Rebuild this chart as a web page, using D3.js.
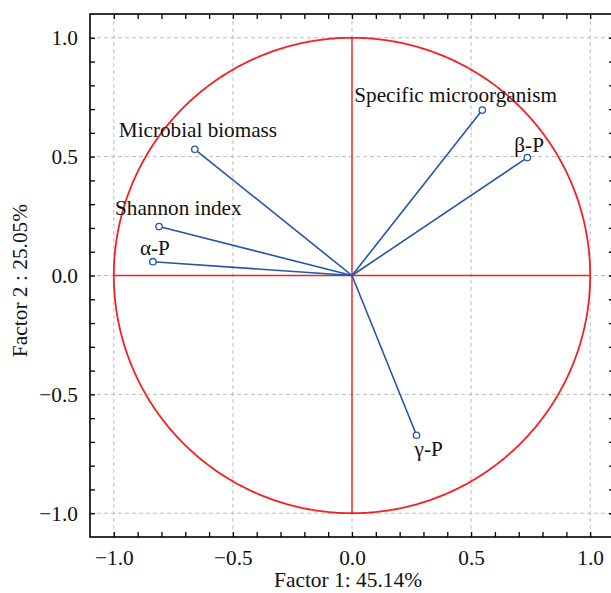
<!DOCTYPE html>
<html>
<head>
<meta charset="utf-8">
<script src="https://cdn.jsdelivr.net/npm/d3@7"></script>
<style>
  html, body { margin: 0; padding: 0; background: #fff; }
  svg { display: block; }
  text { font-family: "Liberation Serif", "Times New Roman", serif; fill: #111; }
</style>
</head>
<body>
<svg id="chart" width="611" height="593"></svg>
<script>
// ---- data ----
const variables = ["Specific microorganism", "β-P", "Microbial biomass", "Shannon index", "α-P", "γ-P"];
const factor1 = [0.547, 0.736, -0.660, -0.810, -0.836, 0.271];
const factor2 = [0.696, 0.496, 0.531, 0.206, 0.058, -0.672];
// label offsets (px) relative to vector tip
const labelDx = [-128, -13, -76, -44, -13, -2];
const labelDy = [-8, -6, -12, -12, -7, 21];

const majorTicks = [-1.0, -0.5, 0.0, 0.5, 1.0];
const tickLabels = ["\u22121.0", "\u22120.5", "0.0", "0.5", "1.0"];
const minorTicks = d3.range(-10, 11).map(d => d / 10);
const xTitle = "Factor 1: 45.14%";
const yTitle = "Factor 2 : 25.05%";

// ---- layout ----
(function () {
const svg = d3.select("#chart");
const pl = 90, pr = 614, pt = 14, pb = 537;
const x = d3.scaleLinear().domain([-1.1, 1.1]).range([pl, pr]);
const y = d3.scaleLinear().domain([-1.1, 1.1]).range([pb, pt]);

const red = "#f52020";
const blue = "#2456a8";

// grid
const grid = svg.append("g");
grid.append("g").selectAll("line").data(majorTicks).join("line")
  .attr("x1", d => x(d)).attr("x2", d => x(d))
  .attr("y1", pt).attr("y2", pb)
  .attr("stroke", "#bdbdbd").attr("stroke-width", 1).attr("stroke-dasharray", "4,3");
grid.append("g").selectAll("line").data(majorTicks).join("line")
  .attr("y1", d => y(d)).attr("y2", d => y(d))
  .attr("x1", pl).attr("x2", pr)
  .attr("stroke", "#bdbdbd").attr("stroke-width", 1).attr("stroke-dasharray", "4,3");

// unit circle
const circ = d3.range(0, 721).map(i => {
  const a = i / 720 * 2 * Math.PI;
  return [Math.cos(a), Math.sin(a)];
});
svg.append("path")
  .attr("d", d3.line().x(d => x(d[0])).y(d => y(d[1]))(circ))
  .attr("fill", "none").attr("stroke", red).attr("stroke-width", 1.8);

// cross lines
svg.append("line").attr("x1", x(-1)).attr("x2", x(1)).attr("y1", y(0)).attr("y2", y(0))
  .attr("stroke", red).attr("stroke-width", 1.4);
svg.append("line").attr("x1", x(0)).attr("x2", x(0)).attr("y1", y(1)).attr("y2", y(-1))
  .attr("stroke", red).attr("stroke-width", 1.4);

// vectors
const idx = d3.range(variables.length);
svg.append("g").selectAll("line").data(idx).join("line")
  .attr("x1", x(0)).attr("y1", y(0))
  .attr("x2", i => x(factor1[i])).attr("y2", i => y(factor2[i]))
  .attr("stroke", blue).attr("stroke-width", 1.6);
svg.append("g").selectAll("circle").data(idx).join("circle")
  .attr("cx", i => x(factor1[i])).attr("cy", i => y(factor2[i]))
  .attr("r", 3.2).attr("fill", "#fff").attr("stroke", blue).attr("stroke-width", 1.3);
svg.append("g").selectAll("text").data(idx).join("text")
  .attr("x", i => x(factor1[i]) + labelDx[i])
  .attr("y", i => y(factor2[i]) + labelDy[i])
  .attr("font-size", 21.2)
  .text(i => variables[i]);

// axes ticks (inward)
function styleAxis(g) {
  g.select(".domain").remove();
  g.selectAll(".tick line").attr("stroke", "#000").attr("stroke-width", 1.3);
}
const fmt = d => tickLabels[majorTicks.indexOf(d)];

svg.append("g").attr("transform", `translate(0,${pb})`)
  .call(d3.axisBottom(x).tickValues(minorTicks).tickSize(-5).tickFormat(""))
  .call(styleAxis);
svg.append("g").attr("transform", `translate(0,${pb})`)
  .call(d3.axisBottom(x).tickValues(majorTicks).tickSize(0).tickPadding(13).tickFormat(fmt))
  .call(styleAxis)
  .call(g => g.selectAll("text").attr("font-size", 21.3).attr("font-family", "Liberation Serif").attr("fill", "#111"));
svg.append("g").attr("transform", `translate(0,${pt})`)
  .call(d3.axisTop(x).tickValues(minorTicks).tickSize(-5).tickFormat(""))
  .call(styleAxis);
svg.append("g").attr("transform", `translate(${pl},0)`)
  .call(d3.axisLeft(y).tickValues(minorTicks).tickSize(-5).tickFormat(""))
  .call(styleAxis);
svg.append("g").attr("transform", `translate(${pl},0)`)
  .call(d3.axisLeft(y).tickValues(majorTicks).tickSize(0).tickPadding(12).tickFormat(fmt))
  .call(styleAxis)
  .call(g => g.selectAll("text").attr("font-size", 21.3).attr("font-family", "Liberation Serif").attr("fill", "#111"));
svg.append("g").attr("transform", `translate(${pr},0)`)
  .call(d3.axisRight(y).tickValues(minorTicks).tickSize(-5).tickFormat(""))
  .call(styleAxis);

// frame
svg.append("rect").attr("x", pl).attr("y", pt)
  .attr("width", pr - pl).attr("height", pb - pt)
  .attr("fill", "none").attr("stroke", "#000").attr("stroke-width", 1.6);

// titles
svg.append("text").attr("x", x(0) - 4).attr("y", 587).attr("text-anchor", "middle")
  .attr("font-size", 21.4).text(xTitle);
svg.append("text").attr("transform", `translate(27,${(pt + pb) / 2 + 5}) rotate(-90)`)
  .attr("text-anchor", "middle").attr("font-size", 21.4).text(yTitle);
})();
</script>
</body>
</html>
